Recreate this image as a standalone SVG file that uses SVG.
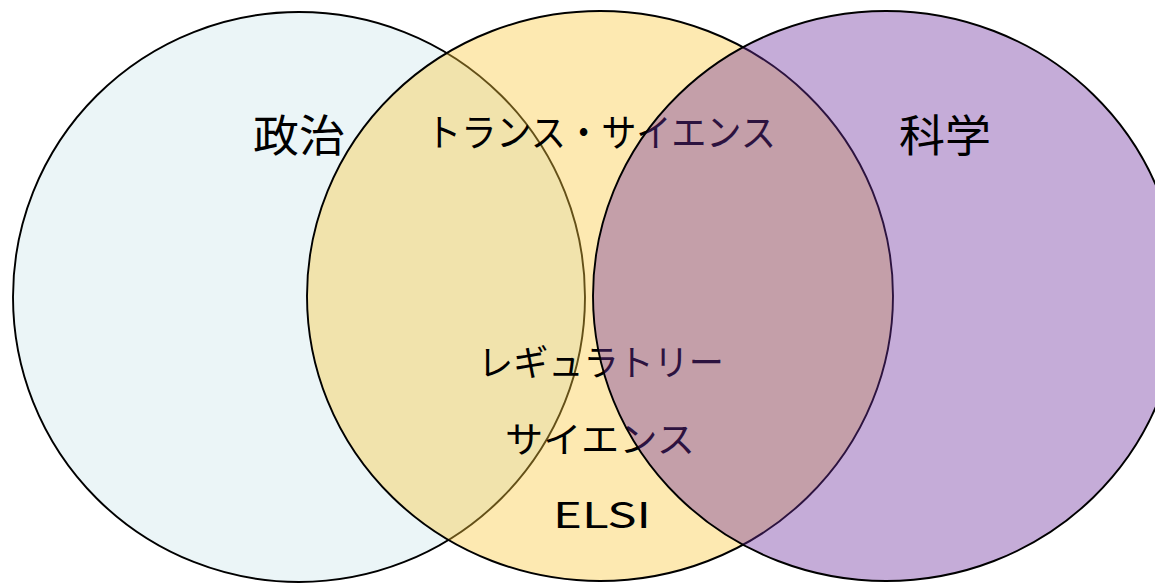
<svg xmlns="http://www.w3.org/2000/svg" width="1155" height="583" viewBox="0 0 1155 583">
<style>
.c{stroke:#000;stroke-width:1.9}
.t{font-family:"Noto Sans CJK JP","Liberation Sans",sans-serif;fill:#000;text-anchor:middle;font-weight:400}
</style>
<rect width="1155" height="583" fill="#fff"/>
<g id="politics">
<ellipse class="c" cx="299" cy="297" rx="286" ry="285" fill="#EBF5F7"/>
<text class="t" x="299" y="152" font-size="44" textLength="92" lengthAdjust="spacingAndGlyphs">政治</text>
</g>
<g id="trans">
<ellipse class="c" cx="600" cy="296" rx="293" ry="285" fill="#FAC83C" fill-opacity="0.4"/>
<text class="t" x="601" y="146" font-size="38" textLength="350" lengthAdjust="spacingAndGlyphs">トランス・サイエンス</text>
<text class="t" x="601" y="376" font-size="36" textLength="246" lengthAdjust="spacingAndGlyphs">レギュラトリー</text>
<text class="t" x="600" y="453" font-size="36" textLength="190" lengthAdjust="spacingAndGlyphs">サイエンス</text>
<text class="t" x="602" y="528" font-size="36" textLength="98" lengthAdjust="spacingAndGlyphs">ELSI</text>
</g>
<g id="science">
<ellipse class="c" cx="886" cy="296" rx="293" ry="285" fill="#6E309D" fill-opacity="0.4"/>
<text class="t" x="945" y="152" font-size="44" textLength="92" lengthAdjust="spacingAndGlyphs">科学</text>
</g>
<g id="connectors"></g>
</svg>
